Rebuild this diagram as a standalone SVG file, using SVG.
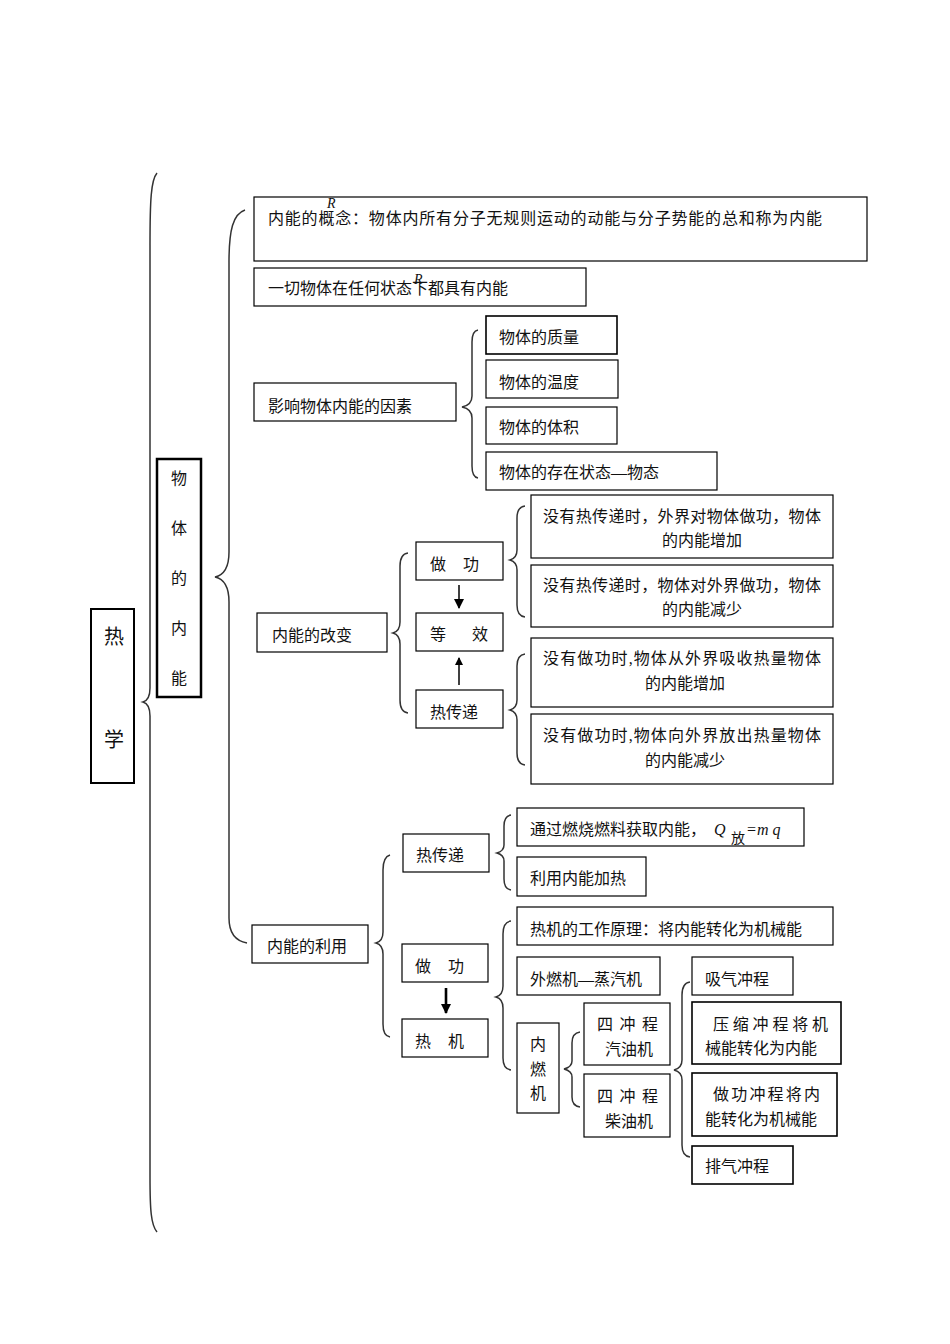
<svg xmlns="http://www.w3.org/2000/svg" width="950" height="1344" viewBox="0 0 950 1344">
<style>
.box{fill:#fff;stroke:#000;stroke-width:1.2}
.thick{fill:#fff;stroke:#000;stroke-width:2.5}
.t{font-family:"Liberation Serif","Noto Sans CJK SC",serif;font-size:16px;fill:#111}
.big{font-family:"Liberation Serif","Noto Sans CJK SC",serif;font-size:20px;fill:#111}
.it{font-family:"Liberation Serif",serif;font-style:italic;font-size:14px;fill:#111}
.br{fill:none;stroke:#333;stroke-width:1.5}
.ar{stroke:#000;stroke-width:1.5;fill:none}
.ar2{stroke:#000;stroke-width:2.6;fill:none}
</style>
<defs>
<marker id="ahd" markerWidth="10" markerHeight="10" refX="5" refY="9" markerUnits="userSpaceOnUse" viewBox="0 0 10 10">
<path d="M0,0 L10,0 L5,10 Z" fill="#000"/>
</marker>
<marker id="ahu" markerWidth="8" markerHeight="8" refX="4" refY="1" markerUnits="userSpaceOnUse" viewBox="0 0 8 8">
<path d="M0,8 L8,8 L4,0 Z" fill="#000"/>
</marker>
</defs>

<g id="connectors">
<path class="br" d="M157,173 C151,180 150,200 150,245 L150,688 Q150,700 143,702 Q150,704 150,716 L150,1177 C150,1210 151,1225 157,1232"/>
<path class="br" d="M245,210 C233,214 229,230 229,262 L229,552 Q229,574 215,577 Q229,580 229,602 L229,918 C229,933 236,941 247,943"/>
<path class="br" d="M478,330 Q472,331 472,342 L472,396 Q472,405 462,407 Q472,409 472,418 L472,466 Q472,477 478,478"/>
<path class="br" d="M408,553 Q400,554 400,566 L400,622 Q400,631 393,633 Q400,635 400,644 L400,700 Q400,712 408,713"/>
<path class="br" d="M525,506 Q517,507 517,518 L517,550 Q517,558 510,560 Q517,562 517,570 L517,605 Q517,616 525,617"/>
<path class="br" d="M525,654 Q517,655 517,666 L517,700 Q517,708 510,710 Q517,712 517,720 L517,753 Q517,764 525,765"/>
<path class="br" d="M390,855 Q383,857 383,870 L383,932 Q383,941 376,943 Q383,945 383,954 L383,1024 Q383,1036 390,1037"/>
<path class="br" d="M511,815 Q504,816 504,826 L504,845 Q504,851 497,853 Q504,855 504,861 L504,879 Q504,889 511,890"/>
<path class="br" d="M511,921 Q503,922 503,934 L503,986 Q503,995 496,997 Q503,999 503,1008 L503,1058 Q503,1069 511,1070"/>
<path class="br" d="M580,1032 Q572,1033 572,1043 L572,1061 Q572,1067 564,1069 Q572,1071 572,1077 L572,1097 Q572,1106 580,1107"/>
<path class="br" d="M690,982 Q682,983 682,995 L682,1060 Q682,1068 674,1070 Q682,1072 682,1080 L682,1145 Q682,1156 690,1157"/>
<line class="ar" x1="459" y1="585" x2="459" y2="608" marker-end="url(#ahd)"/>
<line class="ar" x1="459" y1="685" x2="459" y2="658" marker-end="url(#ahu)"/>
<line class="ar2" x1="446" y1="988" x2="446" y2="1013" marker-end="url(#ahd)"/>
</g>

<g id="n-rexue"><rect class="box" x="91" y="609" width="43" height="174" style="stroke-width:2"/><text class="big" x="104" y="644">热</text><text class="big" x="104" y="747">学</text></g>

<g id="n-wuti"><rect class="thick" x="157" y="459" width="44" height="238"/>
<text class="t" x="171" y="484">物</text><text class="t" x="171" y="534">体</text><text class="t" x="171" y="584">的</text><text class="t" x="171" y="634">内</text><text class="t" x="171" y="684">能</text></g>

<g id="n-gainian"><rect class="box" x="254" y="197" width="613" height="64"/><text class="t" x="268" y="224" textLength="554">内能的概念：物体内所有分子无规则运动的动能与分子势能的总和称为内能</text><text class="it" x="327" y="208">R</text></g>

<g id="n-yiqie"><rect class="box" x="254" y="268" width="332" height="38"/><text class="t" x="268" y="294">一切物体在任何状态下都具有内能</text><text class="it" x="414" y="284">R</text></g>

<g id="n-yingxiang"><rect class="box" x="254" y="383" width="202" height="38"/><text class="t" x="268" y="412">影响物体内能的因素</text></g>
<g id="n-zhiliang"><rect class="box" x="486" y="316" width="131" height="38" style="stroke-width:1.6"/><text class="t" x="499" y="343">物体的质量</text></g>
<g id="n-wendu"><rect class="box" x="486" y="360" width="132" height="38"/><text class="t" x="499" y="388">物体的温度</text></g>
<g id="n-tiji"><rect class="box" x="486" y="407" width="131" height="37"/><text class="t" x="499" y="433">物体的体积</text></g>
<g id="n-wutai"><rect class="box" x="486" y="452" width="231" height="38"/><text class="t" x="499" y="478">物体的存在状态—物态</text></g>

<g id="n-gaibian"><rect class="box" x="257" y="613" width="130" height="39"/><text class="t" x="272" y="641">内能的改变</text></g>
<g id="n-zuogong1"><rect class="box" x="416" y="542" width="87" height="38"/><text class="t" x="430" y="570">做</text><text class="t" x="463" y="570">功</text></g>
<g id="n-dengxiao"><rect class="box" x="416" y="613" width="87" height="38"/><text class="t" x="430" y="640">等</text><text class="t" x="472" y="640">效</text></g>
<g id="n-rechuandi1"><rect class="box" x="416" y="690" width="87" height="38"/><text class="t" x="430" y="718">热传递</text></g>

<g id="n-a"><rect class="box" x="531" y="495" width="302" height="63"/><text class="t" x="543" y="522" textLength="278">没有热传递时，外界对物体做功，物体</text><text class="t" x="662" y="546">的内能增加</text></g>
<g id="n-b"><rect class="box" x="531" y="565" width="302" height="62"/><text class="t" x="543" y="591" textLength="278">没有热传递时，物体对外界做功，物体</text><text class="t" x="662" y="615">的内能减少</text></g>
<g id="n-c"><rect class="box" x="531" y="638" width="302" height="69"/><text class="t" x="543" y="664" textLength="278">没有做功时,物体从外界吸收热量物体</text><text class="t" x="645" y="689">的内能增加</text></g>
<g id="n-d"><rect class="box" x="531" y="714" width="302" height="70"/><text class="t" x="543" y="741" textLength="278">没有做功时,物体向外界放出热量物体</text><text class="t" x="645" y="766">的内能减少</text></g>

<g id="n-liyong"><rect class="box" x="252" y="925" width="116" height="38"/><text class="t" x="267" y="952">内能的利用</text></g>
<g id="n-rechuandi2"><rect class="box" x="403" y="834" width="86" height="38"/><text class="t" x="416" y="861">热传递</text></g>
<g id="n-ranshao"><rect class="box" x="517" y="808" width="287" height="38"/><text class="t" x="530" y="835">通过燃烧燃料获取内能，</text><text class="it" x="714" y="835" style="font-size:16px">Q</text><text class="t" x="731" y="843" style="font-size:14px">放</text><text class="it" x="747" y="835" style="font-size:16px;font-style:normal">=</text><text class="it" x="757" y="835" style="font-size:16px">m q</text></g>
<g id="n-jiare"><rect class="box" x="517" y="857" width="129" height="39"/><text class="t" x="530" y="884">利用内能加热</text></g>
<g id="n-zuogong2"><rect class="box" x="402" y="944" width="86" height="38"/><text class="t" x="415" y="972">做</text><text class="t" x="448" y="972">功</text></g>
<g id="n-reji"><rect class="box" x="402" y="1019" width="86" height="38"/><text class="t" x="415" y="1047">热</text><text class="t" x="448" y="1047">机</text></g>
<g id="n-yuanli"><rect class="box" x="517" y="907" width="316" height="38"/><text class="t" x="530" y="935">热机的工作原理：将内能转化为机械能</text></g>
<g id="n-wairan"><rect class="box" x="517" y="957" width="143" height="38"/><text class="t" x="530" y="985">外燃机—蒸汽机</text></g>
<g id="n-neiran"><rect class="box" x="517" y="1023" width="42" height="90"/><text class="t" x="530" y="1050">内</text><text class="t" x="530" y="1075">燃</text><text class="t" x="530" y="1099">机</text></g>
<g id="n-qiyou"><rect class="box" x="584" y="1003" width="86" height="62"/><text class="t" x="597" y="1030" textLength="61">四冲程</text><text class="t" x="605" y="1055">汽油机</text></g>
<g id="n-chaiyou"><rect class="box" x="584" y="1074" width="86" height="63"/><text class="t" x="597" y="1102" textLength="61">四冲程</text><text class="t" x="605" y="1127">柴油机</text></g>
<g id="n-xiqi"><rect class="box" x="692" y="957" width="101" height="38"/><text class="t" x="705" y="985">吸气冲程</text></g>
<g id="n-yasuo"><rect class="box" x="692" y="1002" width="149" height="62" style="stroke-width:1.6"/><text class="t" x="713" y="1030" textLength="115">压缩冲程将机</text><text class="t" x="705" y="1054">械能转化为内能</text></g>
<g id="n-zuogongcc"><rect class="box" x="692" y="1073" width="145" height="63" style="stroke-width:1.6"/><text class="t" x="713" y="1100" textLength="107">做功冲程将内</text><text class="t" x="705" y="1125">能转化为机械能</text></g>
<g id="n-paiqi"><rect class="box" x="692" y="1146" width="101" height="38" style="stroke-width:1.6"/><text class="t" x="705" y="1172">排气冲程</text></g>
</svg>
